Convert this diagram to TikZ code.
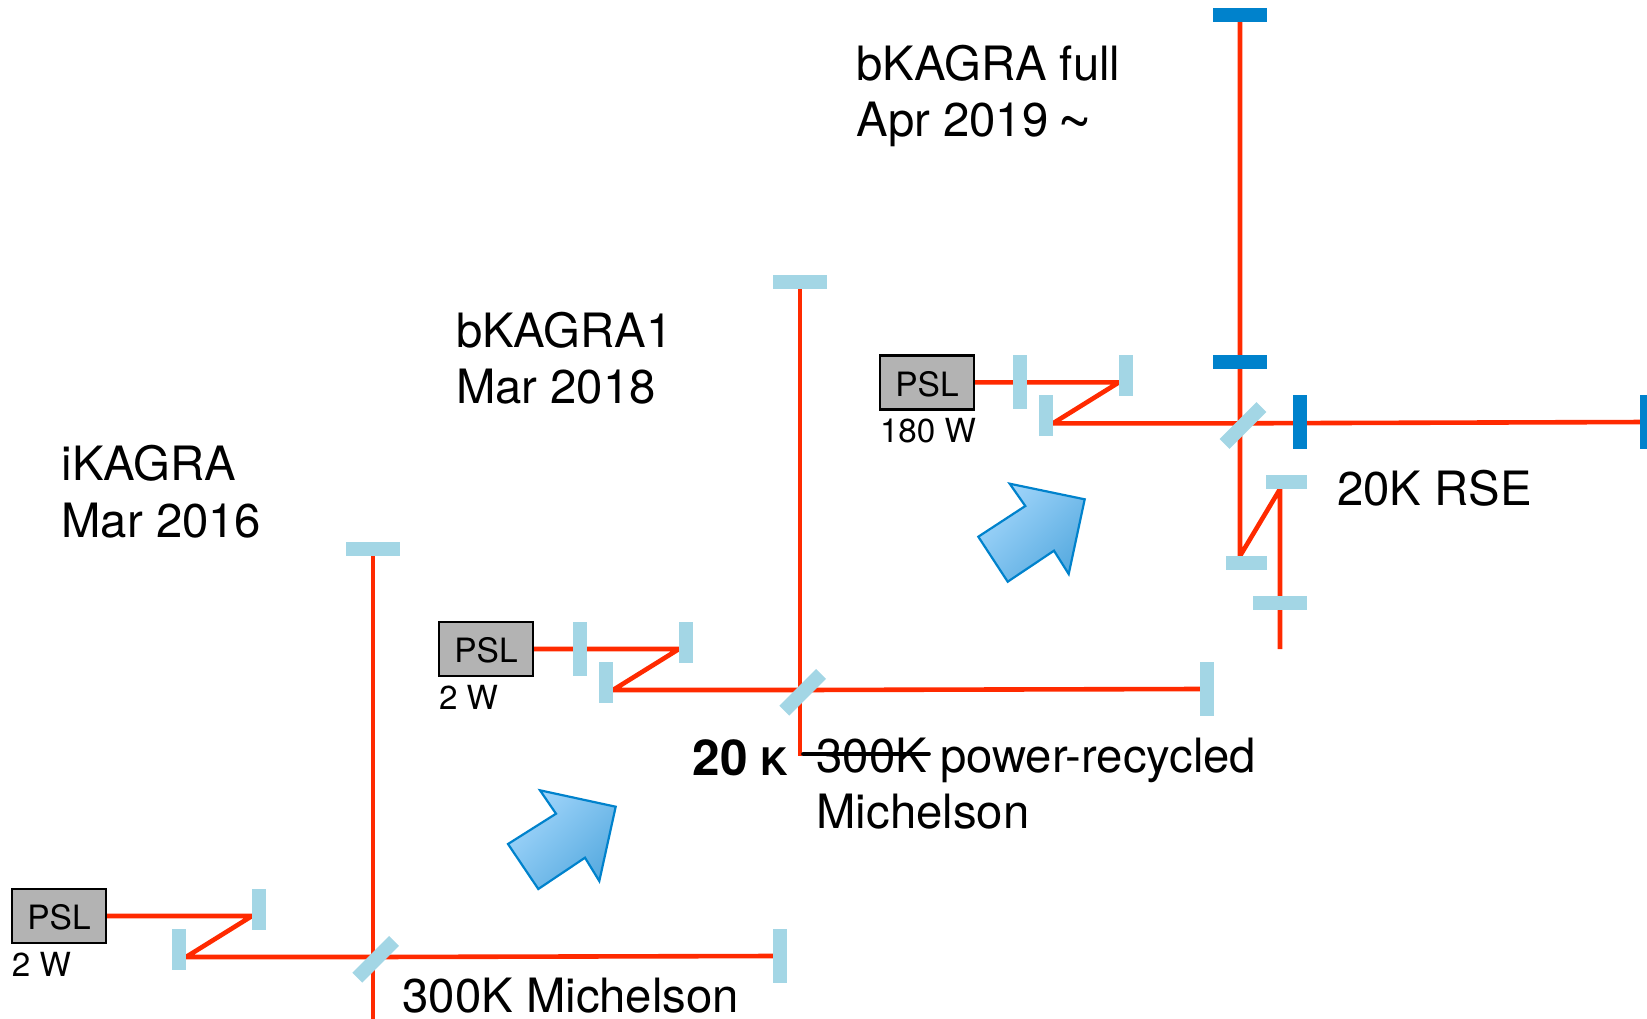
\documentclass[tikz,border=0pt]{standalone}
\usepackage{fontspec}
\setmainfont{TeX Gyre Heros}
\usetikzlibrary{backgrounds}
\definecolor{beamred}{HTML}{FF2A00}
\definecolor{lightmir}{HTML}{A3D6E5}
\definecolor{darkmir}{HTML}{0082CC}
\definecolor{pslgrey}{HTML}{B3B3B3}
\definecolor{arrowlight}{HTML}{A2D6FB}
\definecolor{arrowdark}{HTML}{58ABE0}
\tikzset{
  beam/.style={draw=beamred,line width=4.6pt,line join=miter},
  lm/.style={fill=lightmir,rectangle,inner sep=0,outer sep=0},
  dm/.style={fill=darkmir,rectangle,inner sep=0,outer sep=0},
  vshort/.style={minimum width=14pt,minimum height=41pt},
  vlong/.style={minimum width=14pt,minimum height=54pt},
  hshort/.style={minimum width=41pt,minimum height=14pt},
  hlong/.style={minimum width=54pt,minimum height=14pt},
  splitter/.style={lm,minimum width=52pt,minimum height=14pt,rotate=45},
  pslbox/.style={draw=black,fill=pslgrey,line width=2.4pt,minimum width=94pt,minimum height=54pt,inner sep=0,
    text depth=0pt,text height=23pt,font=\fontsize{33.5}{36}\selectfont},
  biglabel/.style={anchor=base west,inner sep=0,outer sep=0,font=\fontsize{47.3}{50}\selectfont},
  smalllabel/.style={anchor=base west,inner sep=0,outer sep=0,font=\fontsize{33.2}{36}\selectfont},
  stagearrow/.style={draw=darkmir,line width=2.2pt,line join=miter,top color=arrowlight,bottom color=arrowdark,shading angle=45},
}
\begin{document}
\begin{tikzpicture}[x=1pt,y=-1pt]
\useasboundingbox (0,0) rectangle (1647,1018);

% --- iKAGRA
\node[pslbox] (pslA) at (59,916) {\raisebox{-2.2pt}{PSL}};
\node[smalllabel] (powA) at (12,976) {2 W};
\node[lm,vshort] (mA1) at (259,909.5) {};
\node[lm,vshort] (mA2) at (179,949.5) {};
\node[splitter] (bsA) at (375.6,959.3) {};
\node[lm,hlong] (mAn) at (373,548.5) {};
\node[lm,vlong] (mAe) at (780,956) {};
\coordinate (hA1) at (252,916);
\coordinate (hA2) at (186,957);
\coordinate (hAb) at (373,957);
\coordinate (hAe) at (773,956);
\coordinate (hAs) at (373,1020);
\begin{scope}[on background layer]
\draw[beam] (pslA.east) -- (hA1) -- (hA2) -- (hAb) -- (hAe);
\draw[beam] (mAn.center) -- (hAs);
\end{scope}
\node[biglabel] (tA1) at (61.5,480) {iKAGRA};
\node[biglabel] (tA2) at (61.5,537) {Mar 2016};
\node[biglabel] (tA3) at (402.5,1012.5) {300K Michelson};

% --- bKAGRA1
\node[pslbox] (pslB) at (486,649) {\raisebox{-2.2pt}{PSL}};
\node[smalllabel] (powB) at (439,709) {2 W};
\node[lm,vlong] (mB0) at (580,649) {};
\node[lm,vshort] (mB1) at (686,642.5) {};
\node[lm,vshort] (mB2) at (606,682.5) {};
\node[splitter] (bsB) at (802.7,692.3) {};
\node[lm,hlong] (mBn) at (800,282) {};
\node[lm,vlong] (mBe) at (1207,689) {};
\coordinate (hB1) at (679,649);
\coordinate (hB2) at (613,690);
\coordinate (hBb) at (800,690);
\coordinate (hBe) at (1200,689);
\coordinate (hBs) at (800,756);
\begin{scope}[on background layer]
\draw[beam] (pslB.east) -- (hB1) -- (hB2) -- (hBb) -- (hBe);
\draw[beam] (mBn.center) -- (hBs);
\end{scope}
\node[biglabel] (tB1) at (456,347) {bKAGRA1};
\node[biglabel] (tB2) at (456,403) {Mar 2018};
\node[anchor=base west,inner sep=0,font=\fontsize{49.5}{52}\selectfont\bfseries] (tB3) at (692.5,775) {20};
\node[anchor=base west,inner sep=0,font=\fontsize{38}{40}\selectfont\bfseries] (tB4) at (760,775) {K};
\node[biglabel] (tB5) at (816.5,772) {300K};
\node[biglabel] (tB6) at (940,772) {power-recycled};
\node[biglabel] (tB7) at (816.5,828) {Michelson};
\coordinate (stL) at (803,754);
\coordinate (stR) at (929,754);
\draw[black,line width=3.6pt,line cap=round] (stL) -- (stR);

% --- bKAGRA full
\node[pslbox] (pslC) at (927,382.3) {\raisebox{-2.2pt}{PSL}};
\node[smalllabel] (powC) at (880,442) {180 W};
\node[lm,vlong] (mC0) at (1020,382) {};
\node[lm,vshort] (mC1) at (1126,375.5) {};
\node[lm,vshort] (mC2) at (1046,415.5) {};
\node[splitter] (bsC) at (1243,425.5) {};
\node[dm,hlong] (mCn) at (1240,15) {};
\node[dm,hlong] (mCi) at (1240,362) {};
\node[dm,vlong] (mCj) at (1300,422) {};
\node[dm,vlong] (mCe) at (1647,422) {};
\node[lm,hshort] (mS1) at (1286.5,482) {};
\node[lm,hshort] (mS2) at (1246.5,563) {};
\node[lm,hlong] (mS3) at (1280,603) {};
\coordinate (hC1) at (1119,382.3);
\coordinate (hC2) at (1053,423.3);
\coordinate (hCb) at (1240,423.3);
\coordinate (hS2) at (1240,556);
\coordinate (hS1) at (1280,489);
\coordinate (hSe) at (1280,649);
\begin{scope}[on background layer]
\draw[beam] (pslC.east) -- (hC1) -- (hC2) -- (hCb) -- (mCe.center);
\draw[beam] (mCn.center) -- (hS2) -- (hS1) -- (hSe);
\end{scope}
\node[biglabel] (tC1) at (856.5,80) {bKAGRA full};
\node[biglabel] (tC2) at (856.5,136.5) {Apr 2019 \kern-4pt\raisebox{-6pt}{\scalebox{1.26}{\textasciitilde}}};
\node[biglabel] (tC3) at (1337,505) {20K RSE};

% --- stage arrows
\path[stagearrow] (540,790.3) -- (615.7,806.7) -- (599.3,881) -- (585,857.7) -- (538.3,889) -- (508,844) -- (556,813.7) -- cycle;
\path[stagearrow] (1009.7,483.7) -- (1084.7,499.3) -- (1068.7,574) -- (1054,550.7) -- (1007.7,581.7) -- (978.3,536.7) -- (1025.3,506) -- cycle;
\end{tikzpicture}
\end{document}
